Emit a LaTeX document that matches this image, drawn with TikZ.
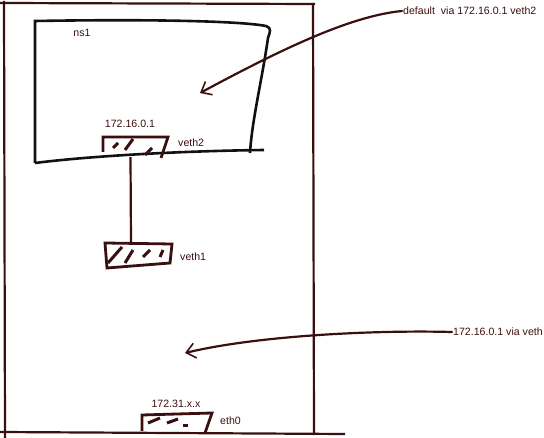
\documentclass[tikz,border=0pt]{standalone}
\usepackage{fontspec}
\setmainfont{Liberation Sans}
\usepackage{tikz}
\usetikzlibrary{arrows.meta,positioning}
\definecolor{ink}{HTML}{3A0F0F}
\definecolor{ink2}{HTML}{111111}

\begin{document}
\begin{tikzpicture}[x=1pt,y=-1pt,font=\fontsize{10.6}{12}\selectfont,
  iface/.style={minimum width=66pt,minimum height=20pt,inner sep=0pt},
  lbl/.style={text=ink,inner sep=1pt},
  hatch/.style={ink,line width=3pt},
  route/.style={ink,line width=2.2pt,line cap=round,-{Straight Barb[length=9pt,width=15pt,line width=1.6pt]}}]
  \useasboundingbox (0,0) rectangle (544,438);
  % host box
  \draw[ink,line width=2.2pt] (4,1) -- (5,438);
  \draw[ink,line width=2.2pt] (0,3) -- (315,4);
  \draw[ink,line width=2.2pt] (313,3) -- (314,435);
  \draw[ink,line width=2.2pt] (0,432) -- (345,434);
  % namespace ns1, drawn by hand
  \draw[ink2,line width=2.6pt] (35,163) -- (35,21) .. controls (150,19) and (240,21) .. (266,26)
    .. controls (272,28) and (270,32) .. (268,38) .. controls (262,80) and (252,120) .. (250,153);
  \draw[ink2,line width=2.6pt] (35,163) .. controls (90,156) and (180,151) .. (264,150);
  \node[lbl] (ns1) at (82,33) {ns1};
  % veth pair
  \node[iface] (veth2) at (135,147) {};
  \draw[ink,line width=2.8pt] (103,152) -- (103,137) -- (168,137) -- (161,158);
  \foreach \a/\b in {{(113,148)/(118,143)},{(125,150)/(133,139)},{(145,155)/(152,148)}} \draw[hatch] \a -- \b;
  \node[lbl] (ip2) at (130,124) {172.16.0.1};
  \node[lbl,anchor=west] (n2) at (177,143) {veth2};
  \node[iface,minimum height=24pt] (veth1) at (138,255) {};
  \draw[ink,line width=2.8pt] (105,243) -- (172,244) -- (170,263) -- (107,268) -- cycle;
  \foreach \a/\b in {{(108,263)/(122,247)},{(125,263)/(133,250)},{(143,257)/(150,250)},{(160,257)/(163,250)}} \draw[hatch] \a -- \b;
  \node[lbl,anchor=west] (n1) at (179,257) {veth1};
  \draw[ink,line width=2.2pt] ([xshift=-4.5pt]veth2.south) -- ([xshift=-7pt]veth1.north);
  % physical nic
  \node[iface] (eth0) at (176,423) {};
  \draw[ink,line width=2.8pt] (142,431) -- (142,415) -- (212,413) -- (205,433);
  \foreach \a/\b in {{(148,423)/(160,418)},{(167,423)/(178,419)},{(183,426)/(188,426)}} \draw[hatch] \a -- \b;
  \node[lbl] (ip0) at (176,404) {172.31.x.x};
  \node[lbl,anchor=west] (n0) at (219,421) {eth0};
  % routes
  \node[lbl,anchor=west] (rt1) at (402,11) {default\ \ via 172.16.0.1 veth2};
  \node[lbl,anchor=west] (rt2) at (452,332) {172.16.0.1 via veth};
  \coordinate (gw) at (200,93);
  \coordinate (hst) at (185,353);
  \draw[route] (rt1.west) .. controls (350,16) and (280,50) .. (gw);
  \draw[route] (rt2.west) .. controls (380,330) and (260,335) .. (hst);
\end{tikzpicture}
\end{document}
